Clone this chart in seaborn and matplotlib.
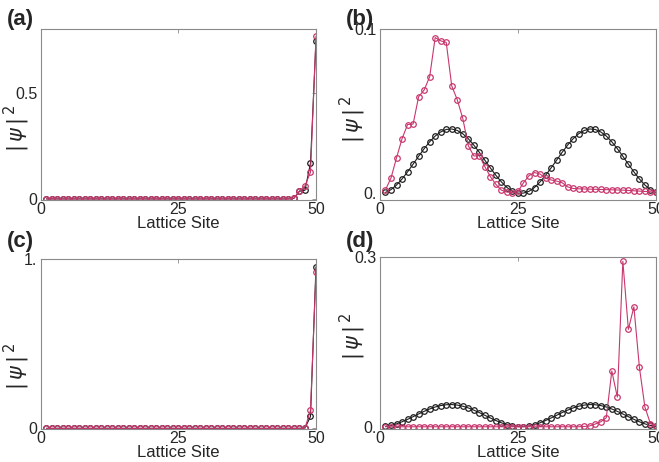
# |psi|^2 profiles over the lattice sites, four panels
import seaborn as sns
from matplotlib import pyplot as plt

sns.set_style('white')
plt.rcParams['font.family'] = ['Liberation Sans', 'DejaVu Sans']
plt.rcParams['mathtext.fontset'] = 'dejavusans'

sites = list(range(1, 51))

# panel (a)
black_a = [0.0] * 45 + [0.003, 0.036, 0.041, 0.168, 0.744]
red_a = [0.0] * 45 + [0.004, 0.038, 0.062, 0.126, 0.766]

# panel (b)
black_b = [0.0006, 0.0023, 0.0051, 0.0088, 0.0131, 0.0178, 0.0226, 0.0272, 0.0314, 0.0349,
           0.0374, 0.0389, 0.0392, 0.0383, 0.0363, 0.0333, 0.0294, 0.0250, 0.0202, 0.0155,
           0.0110, 0.0070, 0.0036, 0.0013, 0.0002, 0.0002, 0.0013, 0.0036, 0.0070, 0.0110,
           0.0155, 0.0202, 0.0250, 0.0294, 0.0333, 0.0363, 0.0383, 0.0392, 0.0389, 0.0374,
           0.0349, 0.0314, 0.0272, 0.0226, 0.0178, 0.0131, 0.0088, 0.0051, 0.0023, 0.0006]
red_b = [0.0022, 0.0094, 0.0217, 0.0333, 0.0419, 0.0422, 0.0588, 0.0629, 0.0709, 0.0948,
         0.0928, 0.0919, 0.0654, 0.0570, 0.0456, 0.0290, 0.0228, 0.0229, 0.0163, 0.0102,
         0.0055, 0.0020, 0.0008, 0.0005, 0.0012, 0.0065, 0.0108, 0.0127, 0.0118, 0.0092,
         0.0082, 0.0075, 0.0065, 0.0040, 0.0030, 0.0028, 0.0027, 0.0026, 0.0025, 0.0024,
         0.0023, 0.0022, 0.0021, 0.0020, 0.0018, 0.0016, 0.0014, 0.0012, 0.0010, 0.0008]

# panel (c)
black_c = [0.0] * 47 + [0.002, 0.070, 0.954]
red_c = [0.0] * 47 + [0.002, 0.107, 0.924]

# panel (d)
black_d = black_b
red_d = [0.0] * 36 + [0.0005, 0.0015, 0.0048, 0.0088, 0.016, 0.0985, 0.0525, 0.2925,
                      0.172, 0.212, 0.105, 0.0345, 0.0055, 0.0015]

panels = [
    # tag, rect, black, red, ylim, yticks, yticklabels, ylabel position, tag top
    ('(a)', [0.0622, 0.5671, 0.4173, 0.3701], black_a, red_a, (-0.005, 0.8), [0, 0.5], ['0', '0.5'], (-0.033, 0.42), 9),
    ('(b)', [0.5766, 0.5671, 0.4188, 0.3701], black_b, red_b, (-0.004, 0.1), [0, 0.1], ['0.', '0.1'], (-0.043, 0.47), 9),
    ('(c)', [0.0622, 0.0714, 0.4173, 0.3680], black_c, red_c, (-0.004, 1.0), [0, 1], ['0', '1.'], (-0.033, 0.37), 231),
    ('(d)', [0.5766, 0.0714, 0.4188, 0.3723], black_d, red_d, (-0.004, 0.3), [0, 0.3], ['0.', '0.3'], (-0.043, 0.54), 231),
]

black_col = '#1e1e1e'
red_col = '#c8376e'
spine_col = '#8a8a8a'

fig = plt.figure(figsize=(6.59, 4.62), dpi=100)
for tag, rect, blk, red, ylim, yt, ytl, ylab, tag_top in panels:
    ax = fig.add_axes(rect)
    sns.lineplot(x=sites, y=blk, ax=ax, color=black_col, lw=0.8, marker='o', ms=4,
                 mfc='none', mec=black_col, mew=0.9)
    sns.lineplot(x=sites, y=red, ax=ax, color=red_col, lw=0.8, marker='o', ms=4,
                 mfc='none', mec=red_col, mew=0.9)
    ax.set_xlim(0, 50)
    ax.set_ylim(*ylim)
    ax.set_xticks([0, 25, 50])
    ax.set_xticklabels(['0', '25', '50'])
    ax.set_yticks(yt)
    ax.set_yticklabels(ytl)
    ax.tick_params(direction='in', length=3, width=0.6, color=spine_col, top=True, right=True,
                   labelsize=11.5)
    ax.tick_params(axis='x', pad=1.5)
    ax.tick_params(axis='y', pad=2.5)
    for s in ax.spines.values():
        s.set_color(spine_col)
        s.set_linewidth(0.8)
        s.set_visible(True)
    ax.set_xlabel('Lattice Site', fontsize=12, labelpad=-1)
    ax.set_ylabel(r'$|\,\psi\,|^{\,2}$', fontsize=15)
    ax.yaxis.set_label_coords(*ylab)
    fig.text(rect[0] - 0.052, 1 - tag_top / 462, tag, fontsize=16, fontweight='bold',
             va='top', ha='left')

plt.savefig('out.png', dpi=100)
